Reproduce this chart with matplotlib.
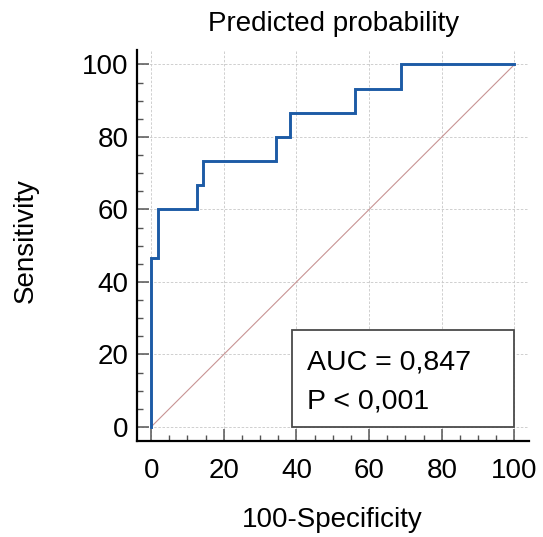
import matplotlib
matplotlib.use("Agg")
import matplotlib.pyplot as plt
from matplotlib.patches import Rectangle
from matplotlib.ticker import MultipleLocator

plt.rcParams['font.family'] = ['Liberation Sans', 'DejaVu Sans']

# ROC step curve (100-Specificity, Sensitivity)
fpr = [0, 0, 1.8, 1.8, 12.7, 12.7, 14.3, 14.3, 34.4, 34.4, 38.1, 38.1, 56.2, 56.2, 68.8, 68.8, 100]
tpr = [0, 46.7, 46.7, 60.0, 60.0, 66.7, 66.7, 73.3, 73.3, 80.0, 80.0, 86.7, 86.7, 93.3, 93.3, 100, 100]
diag = [0, 100]
xticks = [0, 20, 40, 60, 80, 100]
yticks = [0, 20, 40, 60, 80, 100]
auc_text = "AUC = 0,847"
p_text = "P < 0,001"

W, H = 543, 537
fig = plt.figure(figsize=(W / 100, H / 100), dpi=100)
ax = fig.add_axes([137 / W, 1 - 441 / H, (529 - 137) / W, (441 - 50) / H])

ax.set_xlim(-3.9, 104)
ax.set_ylim(-3.9, 104)

ax.grid(True, which='major', color='#c8c8c8', linestyle=(0, (3, 2)), linewidth=0.6)
ax.set_axisbelow(True)

ax.plot(diag, diag, color='#c89494', linewidth=0.8, zorder=2)
ax.plot(fpr, tpr, color='#1d5ba6', linewidth=2.1, zorder=3, solid_joinstyle='miter')

ax.add_patch(Rectangle((38.8, 0), 100 - 38.8, 26.7, facecolor='white',
                       edgecolor='#4a4a4a', linewidth=1.3, zorder=4))
ax.text(43, 15.7, auc_text, fontsize=20.5, va='baseline', ha='left', zorder=5)
ax.text(43, 5.2, p_text, fontsize=20.5, va='baseline', ha='left', zorder=5)

for s in ['top', 'right']:
    ax.spines[s].set_visible(False)
for s in ['left', 'bottom']:
    ax.spines[s].set_linewidth(1.6)
    ax.spines[s].set_color('black')

ax.set_xticks(xticks)
ax.set_yticks(yticks)
ax.xaxis.set_minor_locator(MultipleLocator(5))
ax.yaxis.set_minor_locator(MultipleLocator(5))
ax.tick_params(which='major', direction='in', length=8.8, width=1.1, color='#555555',
               labelsize=20, pad=6)
ax.tick_params(which='minor', direction='in', length=4.3, width=1.0, color='#555555')
ax.tick_params(axis='x', which='major', pad=12)

fig.text(332 / W, 1 - 527 / H, "100-Specificity", fontsize=20, ha='center', va='baseline')
fig.text(25.5 / W, 1 - 241 / H, "Sensitivity", fontsize=20, ha='center', va='center',
         rotation=90)
fig.text(334 / W, 1 - 31 / H, "Predicted probability", fontsize=20, ha='center', va='baseline')

fig.savefig("out.png", dpi=100)
